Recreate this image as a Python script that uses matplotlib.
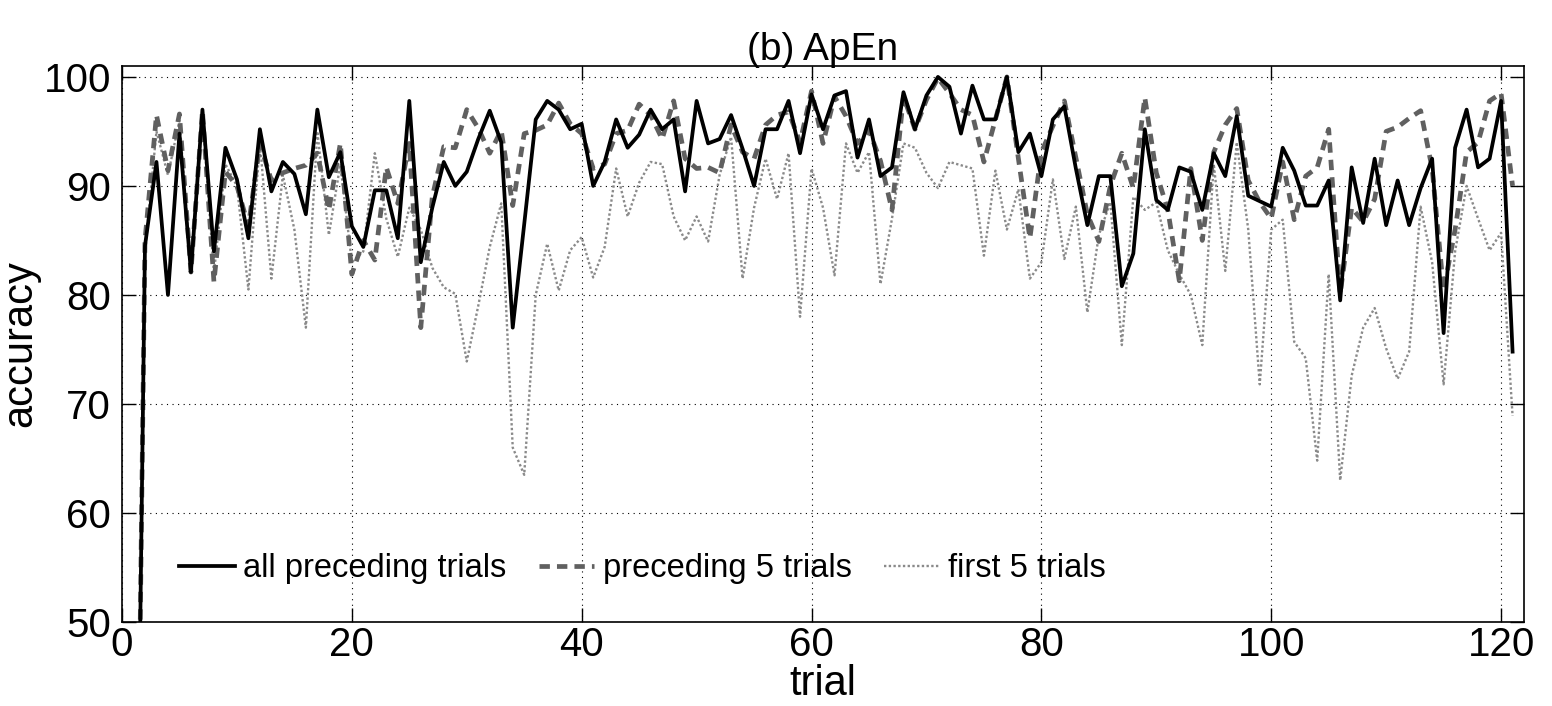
import matplotlib
matplotlib.use("Agg")
import matplotlib.pyplot as plt
import numpy as np

plt.rcParams["font.family"] = ["Liberation Sans", "DejaVu Sans"]

trials = list(range(1, 122))

# all preceding trials
acc_all = [0,
  84.5, 92.2, 80.0, 94.8, 82.1, 97.0, 84.0, 93.5, 90.6, 85.2,
  95.2, 89.5, 92.2, 91.1, 87.4, 97.0, 90.8, 93.1, 86.3, 84.4,
  89.6, 89.6, 85.2, 97.8, 83.0, 88.0, 92.2, 90.0, 91.3, 94.3,
  96.9, 94.0, 77.0, 86.5, 96.1, 97.8, 97.0, 95.2, 95.7, 90.0,
  92.2, 96.1, 93.5, 94.7, 97.0, 95.2, 96.1, 89.5, 97.8, 93.9,
  94.3, 96.5, 93.4, 90.0, 95.2, 95.2, 97.8, 93.0, 98.4, 95.2,
  98.3, 98.7, 92.6, 96.1, 90.9, 91.7, 98.6, 95.2, 98.3, 100.0,
  99.1, 94.8, 99.2, 96.1, 96.1, 100.0, 93.1, 94.8, 90.9, 96.1,
  97.3, 91.6, 86.4, 90.9, 90.9, 80.8, 83.8, 95.2, 88.7, 87.8,
  91.7, 91.3, 87.8, 93.0, 90.9, 96.4, 89.1, 88.6, 88.1, 93.5,
  91.4, 88.2, 88.2, 90.5, 79.5, 91.7, 86.6, 92.5, 86.4, 90.5,
  86.4, 89.8, 92.5, 76.5, 93.5, 97.0, 91.7, 92.5, 97.8, 74.8]

# preceding 5 trials
acc_prev5 = [0,
  85.0, 96.5, 91.4, 96.6, 82.1, 96.9, 81.2, 91.3, 90.0, 86.3,
  93.9, 90.5, 91.2, 91.6, 91.9, 93.0, 87.8, 93.9, 81.9, 85.0,
  83.2, 91.7, 88.4, 93.9, 77.0, 89.0, 93.6, 93.5, 97.0, 95.3,
  93.0, 95.1, 88.2, 94.8, 95.1, 95.6, 97.6, 95.7, 94.8, 91.6,
  92.0, 94.8, 95.1, 97.5, 96.5, 94.3, 97.8, 92.5, 91.6, 91.7,
  91.2, 95.6, 93.1, 92.5, 95.6, 96.5, 96.8, 94.0, 98.7, 93.9,
  98.2, 96.4, 93.9, 95.1, 92.3, 87.8, 98.2, 95.2, 97.9, 99.9,
  98.5, 97.0, 96.5, 92.2, 96.1, 100.0, 92.5, 85.2, 93.1, 95.5,
  97.8, 92.6, 87.4, 84.9, 90.0, 93.0, 89.8, 98.1, 91.2, 87.8,
  81.3, 91.6, 85.0, 93.1, 95.6, 97.1, 90.5, 88.5, 87.0, 92.2,
  86.9, 90.9, 91.7, 95.2, 80.1, 88.0, 86.7, 88.8, 95.0, 95.4,
  96.2, 96.9, 91.6, 80.4, 86.0, 93.1, 94.0, 97.8, 98.5, 90.0]

# first 5 trials
acc_first5 = [0,
  84.0, 95.0, 91.0, 96.0, 82.5, 96.5, 82.0, 92.0, 90.0, 80.5,
  94.0, 81.5, 91.0, 86.0, 77.0, 95.0, 85.5, 92.0, 83.0, 84.0,
  93.0, 87.0, 83.5, 88.0, 86.0, 82.5, 80.7, 80.1, 73.9, 79.0,
  84.4, 88.4, 66.0, 63.5, 80.0, 84.7, 80.4, 84.1, 85.3, 81.6,
  84.4, 91.6, 87.2, 90.3, 92.2, 92.0, 87.2, 85.0, 87.2, 84.9,
  91.0, 94.5, 81.5, 88.0, 92.5, 88.8, 93.0, 78.0, 91.6, 88.0,
  81.8, 93.9, 91.2, 93.1, 81.0, 87.0, 93.9, 93.5, 91.2, 89.8,
  92.2, 91.9, 91.6, 83.6, 91.4, 86.0, 89.7, 81.5, 83.0, 90.6,
  83.3, 88.1, 78.4, 85.5, 88.5, 75.4, 89.0, 87.8, 88.5, 84.1,
  81.9, 80.0, 75.4, 92.0, 82.2, 94.0, 86.0, 71.8, 86.0, 86.9,
  75.7, 74.2, 64.8, 81.9, 63.0, 72.6, 77.0, 78.8, 75.1, 72.3,
  74.8, 88.1, 83.0, 71.8, 84.0, 90.0, 87.0, 84.1, 85.7, 68.9]

fig = plt.figure(figsize=(15.52, 7.06), dpi=100)
ax = fig.add_axes([0.0786, 0.119, 0.9034, 0.7875])

ax.plot(trials, acc_first5, color="#8a8a8a", lw=1.7, ls=(0, (1, 1)), label="first 5 trials", zorder=2)
ax.plot(trials, acc_prev5, color="#606060", lw=3.4, ls=(0, (2.2, 1.5)), label="preceding 5 trials", zorder=3)
ax.plot(trials, acc_all, color="black", lw=2.7, label="all preceding trials", zorder=4)

ax.set_xlim(0, 122)
ax.set_ylim(50, 101)
ax.set_xticks([0, 20, 40, 60, 80, 100, 120])
ax.set_yticks([50, 60, 70, 80, 90, 100])
ax.grid(True, color="black", ls=(0, (1, 4)), lw=0.8)
ax.tick_params(direction="in", length=10, width=1, top=True, right=True, labelsize=29)
ax.tick_params(axis="x", pad=3)
ax.tick_params(axis="y", pad=8)
for s in ax.spines.values():
    s.set_linewidth(1.2)

ax.set_title("(b) ApEn", fontsize=28, pad=4)
ax.set_xlabel("trial", fontsize=30, labelpad=0)
ax.set_ylabel("accuracy", fontsize=30, labelpad=2)

h, l = ax.get_legend_handles_labels()
order = [2, 1, 0]
ax.legend([h[i] for i in order], [l[i] for i in order], loc="lower left", ncol=3, frameon=False,
          fontsize=23.5, handlelength=1.7, handletextpad=0.25, columnspacing=1.0,
          bbox_to_anchor=(0.02, 0.015))

fig.savefig("out.png", dpi=100)
